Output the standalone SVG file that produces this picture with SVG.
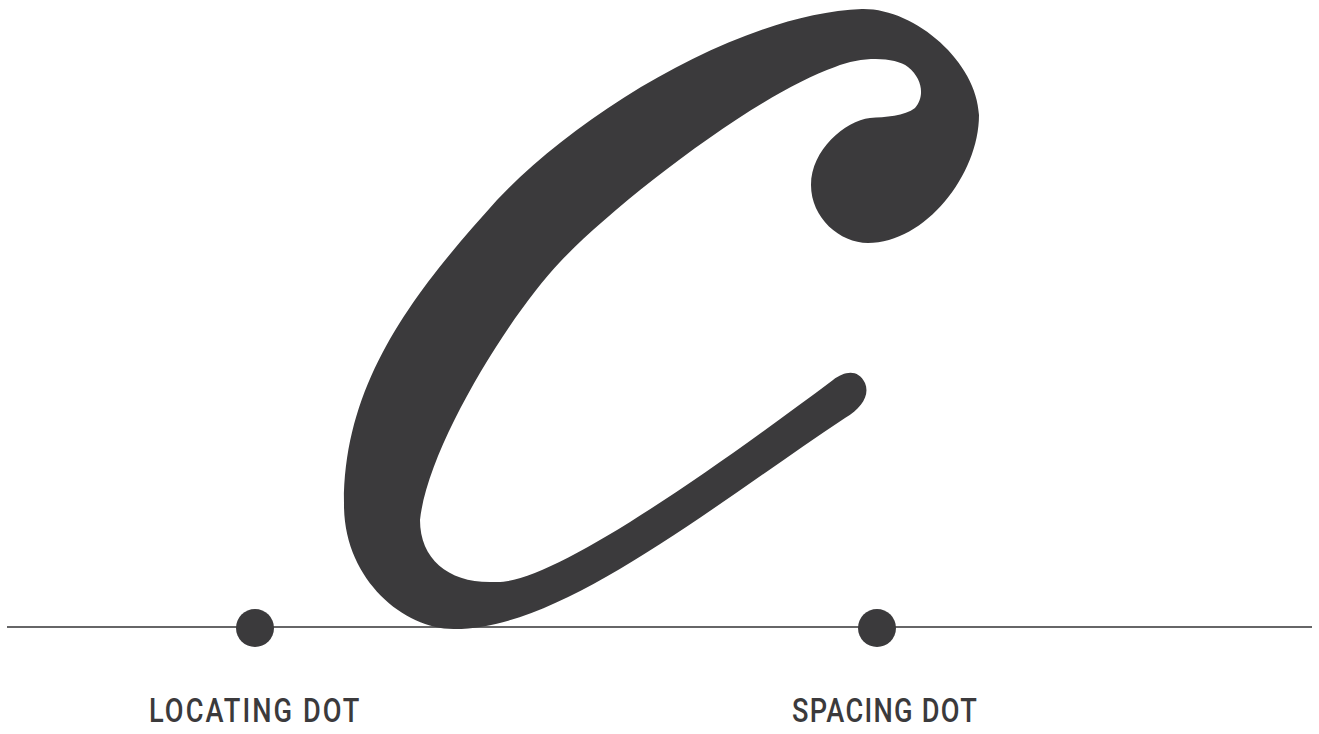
<svg xmlns="http://www.w3.org/2000/svg" width="1319" height="734" viewBox="0 0 1319 734">
<style>
.ink{fill:#3b3a3c}
.base{stroke:#333335;stroke-width:1.6;fill:none}
.lbl{font-family:Roboto,"Liberation Sans",Arial,sans-serif;font-size:34px;font-weight:500;fill:#3b3a3c}
</style>
<rect width="1319" height="734" fill="#ffffff"/>
<g id="baseline">
<line class="base" x1="7" y1="627" x2="1312" y2="627"/>
</g>
<g id="letter-c">
<path class="ink" d="M 845 418 C 700 515 560 629 455 629 C 405 630 344 580 344 505 C 343 380 417 289 497 200 C 580 112 740 14 862 9 C 915 8 977 62 979 115 C 979 175 925 243 868 243 C 840 243 811 218 811 185 C 811 150 845 121 870 118 C 885 117 905 116 915 108 C 924 98 924 80 908 67 C 895 57 862 56 835 67 C 755 95 615 204 560 262 C 512 312 428 445 420 520 C 420 560 450 584 495 582 C 545 585 683 492 833 380 C 845 371 858 369 865 383 C 870 395 862 408 845 418 Z"/>
</g>
<g id="locating-dot">
<circle class="ink" cx="255" cy="628" r="19"/>
<text class="lbl" transform="translate(149,722) scale(0.8,1)" x="0" y="0" textLength="263" lengthAdjust="spacing">LOCATING DOT</text>
</g>
<g id="spacing-dot">
<circle class="ink" cx="877" cy="628" r="19"/>
<text class="lbl" transform="translate(792,722) scale(0.8,1)" x="0" y="0" textLength="231" lengthAdjust="spacing">SPACING DOT</text>
</g>
</svg>
